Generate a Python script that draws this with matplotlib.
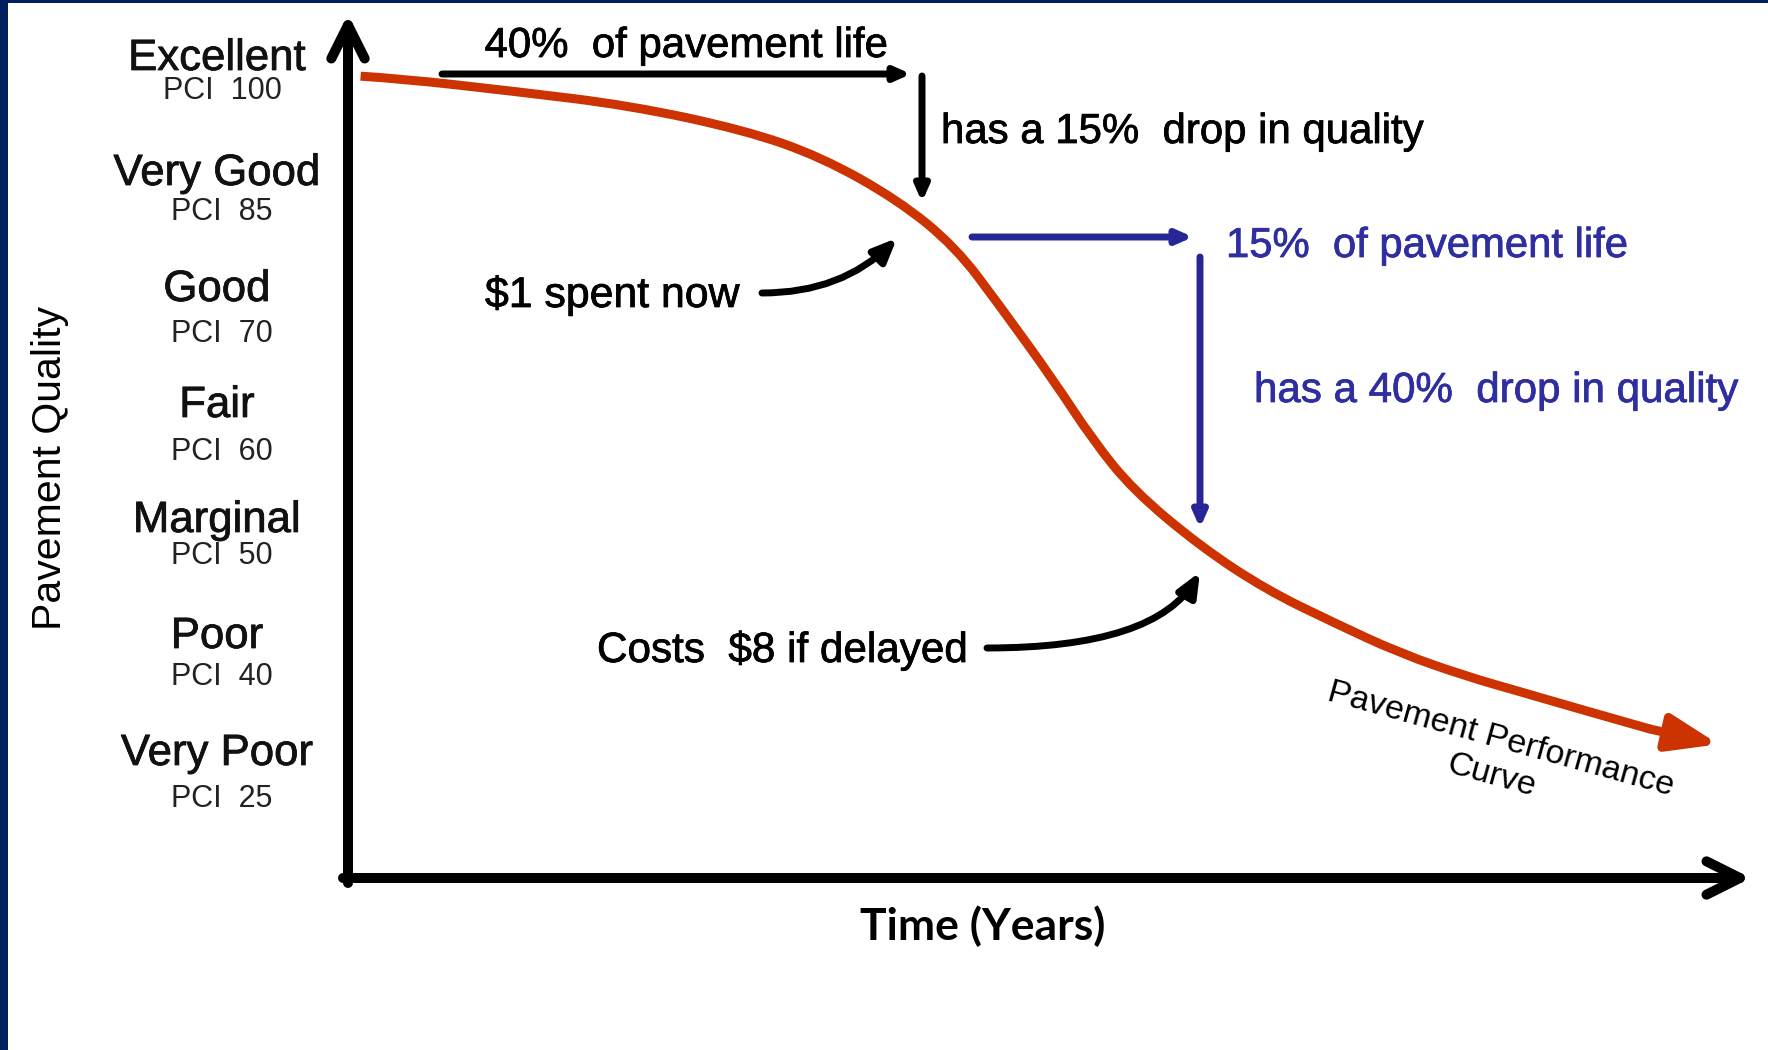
import matplotlib
matplotlib.use("Agg")
import matplotlib.pyplot as plt
import matplotlib.patheffects as pe
from matplotlib.patches import Rectangle, PathPatch
from matplotlib.path import Path

# pavement performance curve: time (% of axis length) vs quality level (0 = Very Poor ... 6 = Excellent)
time = [0.9, 3.7, 11.9, 20.1, 28.3, 33.8, 39.3, 43.4, 46.6, 50.4, 53.2, 56.1,
        60.9, 65.6, 70.4, 75.1, 79.9, 83.7, 88.0, 93.0]
quality = [5.96, 5.94, 5.83, 5.71, 5.50, 5.27, 4.90, 4.50, 3.99, 3.36, 2.85, 2.42,
           1.94, 1.57, 1.29, 1.03, 0.83, 0.70, 0.55, 0.38]
curve_tip = (97.9, 0.25)

levels = ["Excellent", "Very Good", "Good", "Fair", "Marginal", "Poor", "Very Poor"]
pci = [100, 85, 70, 60, 50, 40, 25]

NAVY = "#002060"
RED = "#CC3300"
BLUE = "#262696"
BLUE_TXT = "#2E2EA0"
FONT = "Liberation Sans"

W, H = 1768, 1050
fig = plt.figure(figsize=(W / 100, H / 100), dpi=100)

# layout axes in pixel units (y down)
lay = fig.add_axes([0, 0, 1, 1])
lay.set_xlim(0, W)
lay.set_ylim(H, 0)
lay.axis("off")

# data axes: origin of the drawn axes at pixel (348, 878)
ax = fig.add_axes([0, 0, 1, 1])
ax.set_xlim(-348 / 14, (W - 348) / 14)
ax.set_ylim((773.5 - H) / 117, 773.5 / 117)
ax.axis("off")


def label(x, y, s, size, color="black", **kw):
    t = lay.text(x, y, s, fontsize=size, family=FONT, color=color, **kw)
    t.set_path_effects([pe.withStroke(linewidth=0.55, foreground=color)])
    return t


# frame borders
lay.add_patch(Rectangle((0, 0), W, 3, color=NAVY, lw=0))
lay.add_patch(Rectangle((0, 0), 8, H, color=NAVY, lw=0))

# main axes arrows
ax_arrow = dict(arrowstyle="->,head_length=24,head_width=12", mutation_scale=1,
                color="black", lw=7.2, shrinkA=0, shrinkB=0)
lay.annotate("", xy=(348, 14), xytext=(348, 883), arrowprops=ax_arrow)
lay.annotate("", xy=(1751, 878), xytext=(343, 878), arrowprops=ax_arrow)

# quality level labels
name_y = [70, 185, 301, 417, 532, 648, 765]
pci_y = [99, 220, 342, 460, 564, 685, 807]
for name, val, ny, py in zip(levels, pci, name_y, pci_y):
    label(217, ny, name, 31.5, "#111111", ha="center", va="baseline")
    lay.text(222, py, f"PCI  {val}", ha="center", va="baseline", fontsize=22,
             family=FONT, color="#222222")

lay.text(50, 468, "Pavement Quality", rotation=90, ha="center", va="center",
         fontsize=29.5, family=FONT, color="black")
lay.text(983, 940, "Time (Years)", ha="center", va="baseline", fontsize=32,
         family="Lato", fontweight="bold", color="black")

# performance curve, drawn as a smooth path through the read points
pts = list(zip(time, quality))
verts = [pts[0]]
codes = [Path.MOVETO]
for i in range(1, len(pts) - 1):
    end = pts[-1] if i == len(pts) - 2 else ((pts[i][0] + pts[i + 1][0]) / 2,
                                            (pts[i][1] + pts[i + 1][1]) / 2)
    verts += [pts[i], end]
    codes += [Path.CURVE3, Path.CURVE3]
ax.add_patch(PathPatch(Path(verts, codes), fill=False, edgecolor=RED, lw=6.5,
                       capstyle="butt", joinstyle="round"))
ax.annotate("", xy=curve_tip, xytext=(time[-1], quality[-1]),
            arrowprops=dict(arrowstyle="-|>,head_length=30,head_width=11", mutation_scale=1,
                            color=RED, lw=6.5, shrinkA=0, shrinkB=0))
lay.text(1496, 758, "Pavement Performance\nCurve", rotation=-15.5, rotation_mode="anchor",
         ha="center", va="center", multialignment="center", fontsize=24.5,
         family=FONT, color="black", linespacing=1.3)

# 40% of life / 15% drop annotation (black)
thin = dict(arrowstyle="-|>,head_length=9,head_width=4", mutation_scale=1,
            lw=5, shrinkA=0, shrinkB=0)
lay.annotate("", xy=(911, 74), xytext=(442, 74), arrowprops=dict(thin, color="black"))
lay.annotate("", xy=(922, 202), xytext=(922, 76), arrowprops=dict(thin, color="black"))
label(686, 57, "40%  of pavement life", 30.2, ha="center", va="baseline")
label(941, 143, "has a 15%  drop in quality", 30.2, ha="left", va="baseline")

# 15% of life / 40% drop annotation (blue)
lay.annotate("", xy=(1193, 237), xytext=(972, 237), arrowprops=dict(thin, color=BLUE))
lay.annotate("", xy=(1200, 528), xytext=(1200, 257), arrowprops=dict(thin, color=BLUE))
label(1226, 257, "15%  of pavement life", 30.1, BLUE_TXT, ha="left", va="baseline")
label(1254, 402, "has a 40%  drop in quality", 30.3, BLUE_TXT, ha="left", va="baseline")

# cost callouts
bent = dict(arrowstyle="-|>,head_length=14,head_width=6", mutation_scale=1,
            lw=5, color="black", shrinkA=0, shrinkB=0)
label(485, 307, "$1 spent now", 30.8, ha="left", va="baseline")
lay.annotate("", xy=(897, 238), xytext=(762, 293),
             arrowprops=dict(bent, connectionstyle="angle3,angleA=0,angleB=45"))
label(597, 662, "Costs  $8 if delayed", 30.4, ha="left", va="baseline")
lay.annotate("", xy=(1200, 572), xytext=(987, 648),
             arrowprops=dict(bent, connectionstyle="angle3,angleA=0,angleB=60"))

fig.savefig("out.png", dpi=100)
